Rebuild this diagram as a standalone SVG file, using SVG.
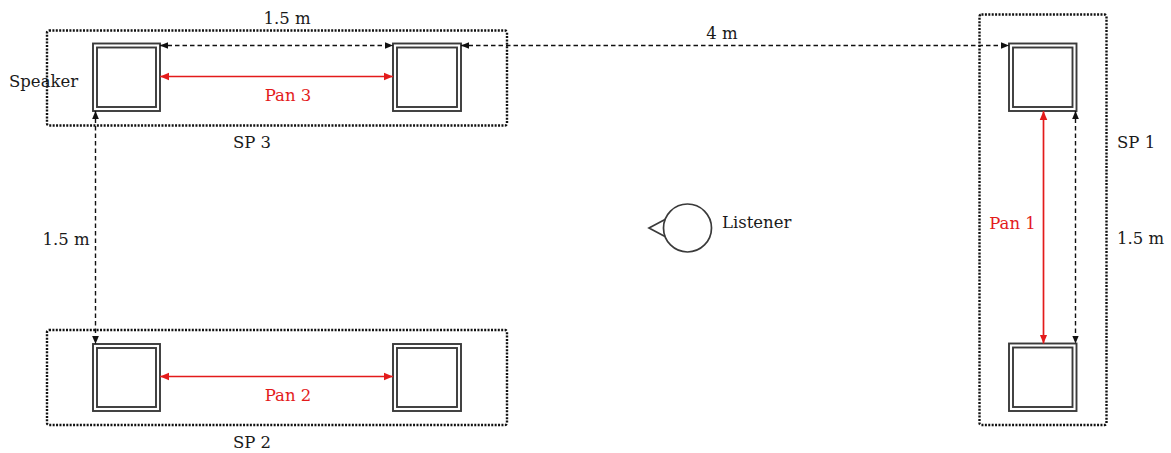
<svg xmlns="http://www.w3.org/2000/svg" width="1171" height="453" viewBox="0 0 1171 453">
<style>
.grp{fill:none;stroke:#111;stroke-width:2.4;stroke-dasharray:2 1.4}
.spk{fill:#fff;stroke:#3a3a3a;stroke-width:1.9}
.spki{fill:none;stroke:#3a3a3a;stroke-width:1.9}
.dim{fill:none;stroke:#111;stroke-width:1.4;stroke-dasharray:4.5 3;marker-start:url(#ab);marker-end:url(#ab)}
.pan{fill:none;stroke:#e31b1b;stroke-width:1.7;marker-start:url(#ar);marker-end:url(#ar)}
text{font-family:"DejaVu Serif","Liberation Serif",serif;font-size:16.5px;fill:#1a1a1a}
.red{fill:#e31b1b}
.mid{text-anchor:middle}
</style>
<defs>
<marker id="ab" viewBox="0 0 10 10" refX="10" refY="5" markerWidth="8" markerHeight="8" markerUnits="userSpaceOnUse" orient="auto-start-reverse"><path d="M0,0.8 L10,5 L0,9.2 z" fill="#111"/></marker>
<marker id="ar" viewBox="0 0 10 10" refX="10" refY="5" markerWidth="9" markerHeight="9" markerUnits="userSpaceOnUse" orient="auto-start-reverse"><path d="M0,0.8 L10,5 L0,9.2 z" fill="#e31b1b"/></marker>
</defs>

<g id="sp3">
<rect class="grp" x="47" y="30.5" width="460" height="95" rx="2"/>
<rect class="spk" x="93" y="43.5" width="67" height="67.5"/><rect class="spki" x="97" y="47.5" width="59" height="59.5"/>
<rect class="spk" x="393" y="43.5" width="68" height="67.5"/><rect class="spki" x="397" y="47.5" width="60" height="59.5"/>
<text x="252" y="148" class="mid">SP 3</text>
</g>

<g id="sp2">
<rect class="grp" x="47" y="330" width="460" height="95" rx="2"/>
<rect class="spk" x="93" y="344" width="67" height="67"/><rect class="spki" x="97" y="348" width="59" height="59"/>
<rect class="spk" x="393" y="344" width="68" height="67"/><rect class="spki" x="397" y="348" width="60" height="59"/>
<text x="252" y="448" class="mid">SP 2</text>
</g>

<g id="sp1">
<rect class="grp" x="979.5" y="14.5" width="127" height="410.5" rx="2"/>
<rect class="spk" x="1009" y="43.5" width="67.5" height="67.5"/><rect class="spki" x="1013" y="47.5" width="59.5" height="59.5"/>
<rect class="spk" x="1009" y="343.5" width="67.5" height="67.5"/><rect class="spki" x="1013" y="347.5" width="59.5" height="59.5"/>
<text x="1117" y="148">SP 1</text>
</g>

<g id="listener">
<circle cx="687.5" cy="228" r="24" fill="#fff" stroke="#3a3a3a" stroke-width="1.7"/>
<path d="M665,219.5 L649,228 L665,236.5" fill="none" stroke="#3a3a3a" stroke-width="1.7" stroke-linejoin="miter"/>
<text x="722" y="228">Listener</text>
</g>

<g id="connectors">
<line class="dim" x1="160" y1="45.5" x2="393" y2="45.5"/>
<line class="dim" x1="461" y1="45.5" x2="1009" y2="45.5"/>
<line class="dim" x1="95.5" y1="111" x2="95.5" y2="344"/>
<line class="dim" x1="1075.5" y1="111" x2="1075.5" y2="343.5"/>
<line class="pan" x1="160" y1="76.5" x2="393" y2="76.5"/>
<line class="pan" x1="160" y1="376.5" x2="393" y2="376.5"/>
<line class="pan" x1="1043.5" y1="111" x2="1043.5" y2="343.5"/>
</g>

<g id="labels">
<text x="9" y="87">Speaker</text>
<text x="287" y="24" class="mid">1.5 m</text>
<text x="722" y="39" class="mid">4 m</text>
<text x="66" y="245" class="mid">1.5 m</text>
<text x="1117" y="244">1.5 m</text>
<text x="288" y="101" class="mid red">Pan 3</text>
<text x="288" y="401" class="mid red">Pan 2</text>
<text x="1012.5" y="229" class="mid red">Pan 1</text>
</g>
</svg>
